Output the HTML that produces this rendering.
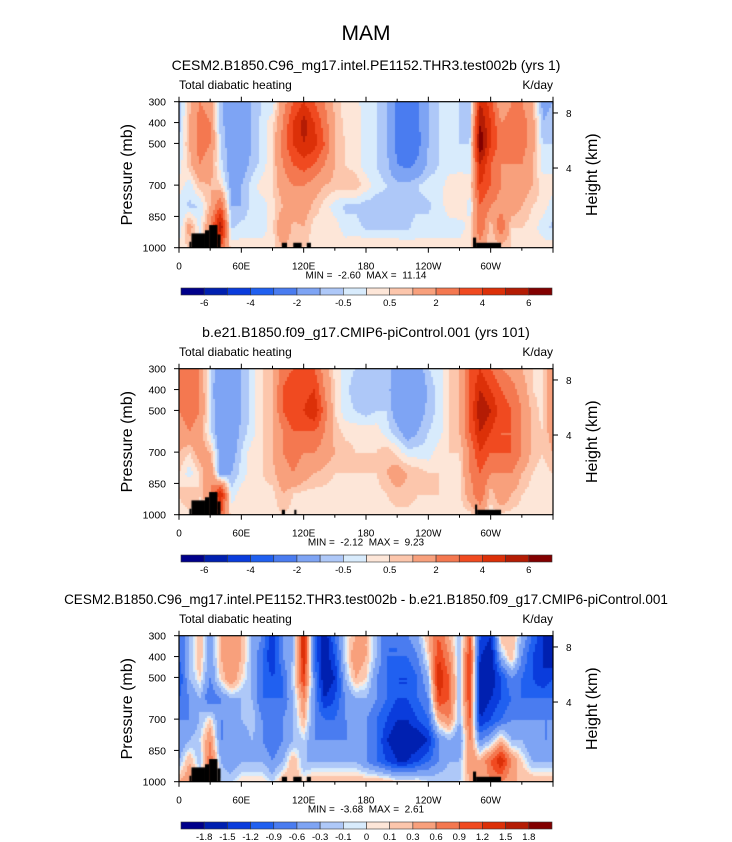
<!DOCTYPE html>
<html><head><meta charset="utf-8">
<style>
body{margin:0;background:#fff;width:732px;height:842px;position:relative;overflow:hidden;font-family:"Liberation Sans",Arial,sans-serif}
canvas{position:absolute}
svg{position:absolute;left:0;top:0}
</style></head>
<body>
<canvas id="c0" width="374" height="146" style="left:179px;top:101.7px"></canvas>
<canvas id="c1" width="374" height="146" style="left:179px;top:368.7px"></canvas>
<canvas id="c2" width="374" height="146" style="left:179px;top:635.7px"></canvas>
<svg id="ov" width="732" height="842"></svg>
<script>
const lons=[0,10,20,30,40,50,60,70,80,90,100,110,120,130,140,150,160,170,180,190,200,210,220,230,240,250,260,270,280,290,300,310,320,330,340,350,360];
const levs=[300,400,500,600,700,800,900,1000];
const colors=["#00008a","#0020b0","#0a3cdc","#2060f0","#4a7cf0","#7ea4f4","#aec8f8","#d8ebfc","#fde6d8","#fcc6ac","#f8a07c","#f47850","#f04a20","#dc3008","#b41c04","#820000"];
const bounds12=[-6,-5,-4,-3,-2,-1,-0.5,0,0.5,1,2,3,4,5,6];
const labels12=["-6","-4","-2","-0.5","0.5","2","4","6"];
const bounds3=[-1.8,-1.5,-1.2,-0.9,-0.6,-0.3,-0.1,0,0.1,0.3,0.6,0.9,1.2,1.5,1.8];
const labels3=["-1.8","-1.5","-1.2","-0.9","-0.6","-0.3","-0.1","0","0.1","0.3","0.6","0.9","1.2","1.5","1.8"];
const xTickVals=[0,60,120,180,240,300];
const xTickLabels=["0","60E","120E","180","120W","60W"];
const pTicks=[300,400,500,700,850,1000];
const hTicks=[[8,354],[4,618]];
const field1=[
[-1,0.8,2,1.5,-0.8,-1.5,-1.8,-1,-0.5,-0.3,1.5,3,4,3,2,0.8,0.3,0.2,-0.3,-0.5,-1,-2.2,-2.5,-2.2,-1,-0.5,-0.3,-0.5,-0.8,5,3.5,1,2,2,1,-1.2,-1],
[-0.8,1,2.5,2,-0.8,-1.5,-1.8,-1,-0.3,0.3,2,4,5.5,4,2.5,1,0.3,0.3,-0.3,-0.5,-1,-2.2,-2.5,-2.2,-1,-0.5,-0.3,-0.5,-0.8,6,4,2,2.5,2.5,1.5,-1,-0.8],
[-0.5,1,2.5,2,-0.5,-1.5,-1.8,-1,-0.3,0.5,2.5,4,5,4.5,3,1,0.5,0.3,-0.3,-0.5,-1,-2.3,-2.6,-2.3,-1,-0.5,-0.3,-0.5,-0.5,7,4,2.5,2.5,2.5,1.5,-0.5,-0.5],
[-0.3,0.8,2,1.5,-0.3,-1.5,-1.5,-0.8,-0.3,0.5,2,3,3.5,3,2,1,0.5,0.3,-0.3,-0.5,-0.8,-2,-2.3,-1.8,-0.8,-0.5,-0.3,-0.3,-0.3,5,3,2,2,2,1,-0.3,-0.3],
[0.3,-0.3,0.8,1,0.5,-1.2,-1,-0.3,0.3,0.5,1.5,2,2,1.5,1,0.8,0.8,0.8,0.3,-0.3,-0.5,-0.8,-0.8,-0.5,-0.3,-0.3,0.3,0.5,0.3,4,3,2,1.5,1.5,1,0.3,0.3],
[-0.3,-0.6,-0.5,1,3,-1,-1,-0.3,-0.3,0.3,1,1.5,1.5,0.8,0.3,-0.3,-0.6,-0.6,-0.8,-0.8,-0.6,-0.6,-0.6,-0.6,-0.6,-0.3,0.3,0.5,-0.3,3,2,1.5,1.5,1,0.5,0.3,-0.3],
[-0.6,1.5,-0.3,2,6,-0.6,-0.3,-0.3,-0.3,0.3,2,0.8,1,0.3,0.3,0.3,-0.3,-0.3,-0.6,-0.6,-0.6,-0.6,-0.6,-0.3,-0.3,-0.3,-0.3,-0.3,0.3,3,0.5,3,0.5,0.5,0.3,-0.3,-0.6],
[0.3,0.5,0.5,1,3,0.3,0.3,0.3,0.3,0.3,1,0.5,0.5,0.3,0.3,0.3,0.3,0.5,0.5,0.5,0.5,0.5,0.3,0.3,0.3,0.3,0.3,0.3,0.3,1.5,0.5,0.5,0.5,0.3,0.3,0.3,0.3]];
const field2=[
[2,2,2,-0.5,-1.5,-1.5,-1,-0.3,0.5,1,2.5,3,3,3,1.5,0.3,-0.3,-0.5,-0.8,-0.8,-0.5,-1.5,-2,-1.5,-0.5,-0.3,0.5,1,3,4,3,2,1.5,1,0.5,0.3,2],
[2,2,2,-0.5,-2,-2,-1,-0.3,0.5,1,3,4,3.5,4,2,0.5,-0.3,-0.8,-1,-1,-0.8,-1.5,-2,-2,-0.8,-0.3,0.5,1,3,5,4,3,2.5,1.5,0.5,0.3,2],
[2,2.5,2,-0.3,-2,-2,-1,-0.3,0.5,1,3,4,4,5,2.5,0.5,-0.3,-0.5,-0.8,-0.5,-0.5,-1.5,-2,-1.5,-0.8,-0.3,0.5,1,3,6,5,3.5,3,2,0.8,0.3,2],
[1.5,2,1.5,-0.3,-1.8,-1.8,-0.8,-0.3,0.5,1,2,3,3,3,2,0.8,0.3,0.3,0.3,0.3,-0.3,-0.8,-1.5,-1,-0.5,-0.3,0.5,1,3,5,4,3,3,2,0.8,0.5,1.5],
[1,0.5,1.5,1,-1.5,-1.5,-0.5,0.3,0.5,1,2,2.5,2,2,1.5,1,0.8,0.5,0.5,0.5,0.8,0.3,-0.3,-0.3,-0.3,0.3,0.5,0.5,2,4,3,3,3,2,0.8,0.5,1],
[0.5,-0.3,0.5,2,-1.5,-1,-0.3,0.3,0.5,0.8,1.5,2,1.5,1,0.8,0.5,0.5,0.5,0.5,0.5,1,1.5,1,0.8,0.5,0.5,0.5,0.3,2,3,2,2,2,1,0.5,0.3,0.5],
[0.5,1,0.5,2,5,-0.3,0.3,0.3,0.3,0.3,1,0.5,0.3,0.3,0.3,0.3,0.3,0.3,0.3,0.3,0.5,0.8,0.8,0.5,0.5,0.5,0.3,0.3,1.5,3,0.5,2,1,0.5,0.3,0.3,0.5],
[0.3,0.3,0.3,1,3,0.3,0.3,0.3,0.3,0.3,0.5,0.3,0.3,0.3,0.3,0.3,0.3,0.3,0.3,0.3,0.3,0.3,0.3,0.3,0.3,0.3,0.3,0.3,0.3,1,0.3,0.3,0.3,0.3,0.3,0.3,0.3]];
const field3=[
[-0.9,-0.3,0.3,-0.6,0.3,0.6,0.3,-0.3,-0.6,-1.5,-0.6,-0.3,1.5,-0.9,-1.8,-0.9,-0.1,0.3,0.3,-0.3,-0.9,-0.9,-0.6,-0.3,0.3,0.9,0.3,-0.3,0.9,-1.2,-1.5,0.3,0.3,-0.3,-0.9,-1.5,-1.8],
[-0.9,-0.3,0.3,-0.6,0.3,0.6,0.3,-0.3,-0.9,-1.5,-0.6,-0.3,1.5,-0.9,-1.8,-1.2,-0.1,0.6,0.3,-0.3,-0.9,-0.9,-0.9,-0.6,0.1,1.2,0.6,-0.3,1.2,-1.5,-1.8,-0.3,0.3,-0.6,-1.2,-1.5,-1.8],
[-1.2,-0.3,0.1,-0.6,0.1,0.6,0.1,-0.3,-0.9,-1.2,-0.9,-0.1,1.2,-0.6,-1.8,-1.5,-0.3,0.3,0.1,-0.6,-0.9,-1.2,-1.2,-0.9,-0.3,1.5,0.9,-0.3,1.2,-1.8,-1.8,-1.2,-0.6,-0.9,-1.2,-1.5,-1.2],
[-0.9,-0.6,-0.3,-0.9,-0.6,-0.3,-0.3,-0.3,-0.9,-0.9,-0.9,-0.3,0.6,-0.6,-1.5,-1.2,-0.6,-0.3,-0.3,-0.6,-0.9,-1.2,-1.2,-0.9,-0.6,1.2,0.9,-0.3,1.2,-1.8,-1.5,-1.2,-0.9,-0.9,-0.9,-0.9,-0.9],
[-0.6,-0.6,-0.3,0.1,-0.6,-0.6,-0.3,-0.1,-0.6,-0.9,-0.6,-0.3,0.3,-0.6,-0.9,-0.9,-0.6,-0.6,-0.6,-0.9,-1.2,-1.5,-1.5,-1.2,-0.9,0.3,0.6,-0.3,0.9,-1.5,-1.2,-0.9,-0.6,-0.6,-0.6,-0.6,-0.6],
[-0.6,-0.3,-0.1,0.6,-0.6,-0.6,-0.6,-0.3,-0.6,-0.9,-0.6,-0.3,-0.1,-0.6,-0.6,-0.6,-0.6,-0.6,-0.6,-0.9,-1.5,-1.8,-1.8,-1.8,-1.5,-0.6,-0.3,-0.6,0.6,-0.6,-0.3,0.3,-0.3,-0.3,-0.6,-0.6,-0.6],
[-0.3,0.3,-0.3,0.9,-0.3,-0.6,-0.3,-0.3,-0.3,-0.6,-0.3,0.3,-0.3,-0.3,-0.3,-0.3,-0.3,-0.3,-0.6,-0.9,-1.2,-1.5,-1.5,-1.2,-0.9,-0.6,-0.3,-0.3,0.6,0.3,0.9,1.5,0.6,0.1,-0.3,-0.3,-0.3],
[0.3,0.6,0.3,0.6,-0.1,-0.1,0.1,0.1,0.1,-0.1,0.3,0.3,0.1,0.3,0.3,0.3,0.3,0.3,0.3,0.3,0.3,0.1,0.1,0.1,-0.1,-0.1,-0.1,-0.1,0.3,0.3,0.6,0.6,0.3,0.3,0.3,0.3,0.3]];
const topoA=[[10,12,970],[12,25,930],[25,29,915],[29,37,890],[37,40,935],[99,104,975],[110,118,975],[123,127,975],[283,286,950],[286,310,975]];
const topoB=[[10,12,970],[12,25,930],[25,29,915],[29,37,890],[37,40,935],[99,102,975],[111,113,975],[285,287,950],[287,310,975]];
const panels=[
 {dy:0,field:field1,bounds:bounds12,labels:labels12,topo:topoA,min:"-2.60",max:"11.14",title:"CESM2.B1850.C96_mg17.intel.PE1152.THR3.test002b (yrs 1)",all:false},
 {dy:267,field:field2,bounds:bounds12,labels:labels12,topo:topoB,min:"-2.12",max:"9.23",title:"b.e21.B1850.f09_g17.CMIP6-piControl.001 (yrs 101)",all:false},
 {dy:534,field:field3,bounds:bounds3,labels:labels3,topo:topoA,min:"-3.68",max:"2.61",title:"CESM2.B1850.C96_mg17.intel.PE1152.THR3.test002b - b.e21.B1850.f09_g17.CMIP6-piControl.001",all:true}];
const X0=179,W=374,Y0=101.7,H=146;
function xs(lon){return X0+lon/360*W;}
function ys(p,dy){return Y0+dy+(p-300)/700*H;}
function interp(f,lon,p){
 let i=Math.min(35,Math.floor(lon/10)),tx=(lon-lons[i])/10;
 let j=0;while(j<6&&p>levs[j+1])j++;
 let ty=(p-levs[j])/(levs[j+1]-levs[j]);
 const a=f[j][i],b=f[j][i+1],c=f[j+1][i],d=f[j+1][i+1];
 return (a*(1-tx)+b*tx)*(1-ty)+(c*(1-tx)+d*tx)*ty;}
function bin(v,b){let k=0;while(k<b.length&&v>=b[k])k++;return k;}
const NS="http://www.w3.org/2000/svg";
const svg=document.getElementById('ov');
function el(t,a,txt){const e=document.createElementNS(NS,t);for(const k in a)e.setAttribute(k,a[k]);if(txt!==undefined)e.textContent=txt;svg.appendChild(e);return e;}
let t=el('text',{x:366,y:40,'font-size':21,'text-anchor':'middle'},'MAM');

panels.forEach((P,pi)=>{
 const cv=document.getElementById('c'+pi),ctx=cv.getContext('2d');
 for(let px=0;px<W;px+=2)for(let py=0;py<H;py+=2){
  const lon=(px+1)/W*360,p=300+(py+1)/H*700;
  ctx.fillStyle=colors[bin(interp(P.field,lon,p),P.bounds)];ctx.fillRect(px,py,2,2);}
 ctx.fillStyle='#000';
 P.topo.forEach(tb=>{const x1=tb[0]/360*W,x2=tb[1]/360*W,y=(tb[2]-300)/700*H;ctx.fillRect(x1,y,x2-x1,H-y);});
 const dy=P.dy;
 let e;
 e=el('text',{x:366,y:70+dy,'font-size':pi==2?13.5:14,'text-anchor':'middle'},P.title);
 
 e=el('text',{x:179,y:89+dy,'font-size':12},'Total diabatic heating');
 
 e=el('text',{x:553,y:89+dy,'font-size':12,'text-anchor':'end'},'K/day');
 
 e=el('rect',{x:X0,y:Y0+dy,width:W,height:H,fill:'none',stroke:'#000','stroke-width':1.2});
 
 for(let lon=0;lon<=360;lon+=30){const x=xs(lon),major=lon%60==0,L=major?5:3;
  e=el('line',{x1:x,x2:x,y1:Y0+dy+H,y2:Y0+dy+H+L,stroke:'#000'});
  
  e=el('line',{x1:x,x2:x,y1:Y0+dy,y2:Y0+dy-L,stroke:'#000'});
  }
 xTickVals.forEach((v,k)=>{e=el('text',{x:xs(v),y:Y0+dy+H+22,'font-size':10,'text-anchor':'middle'},xTickLabels[k]);
  });
 pTicks.forEach(p=>{const y=ys(p,dy);
  e=el('line',{x1:X0,x2:X0-5,y1:y,y2:y,stroke:'#000'});
  
  e=el('text',{x:X0-13,y:y+4,'font-size':10.5,'text-anchor':'end'},String(p));
  });
 hTicks.forEach(h=>{const y=ys(h[1],dy);
  e=el('line',{x1:X0+W,x2:X0+W+5,y1:y,y2:y,stroke:'#000'});
  
  e=el('text',{x:X0+W+13,y:y+4,'font-size':10,},String(h[0]));
  });
 const cy=Y0+dy+H/2;
 e=el('text',{x:132,y:cy,'font-size':16,'text-anchor':'middle',transform:`rotate(-90 132 ${cy})`},'Pressure (mb)');
 
 e=el('text',{x:597,y:cy,'font-size':16,'text-anchor':'middle',transform:`rotate(-90 597 ${cy})`},'Height (km)');
 
 e=el('text',{x:366,y:Y0+dy+H+31,'font-size':10,'text-anchor':'middle','xml:space':'preserve',style:'white-space:pre'},`MIN =  ${P.min}  MAX =  ${P.max}`);
 
 const bx=181,bw=371/16,by=288+dy;
 colors.forEach((c,k)=>{e=el('rect',{x:bx+k*bw,y:by,width:bw,height:7,fill:c,stroke:'#333','stroke-width':0.6});
  });
 P.labels.forEach((l,k)=>{const idx=P.all?k:2*k;
  e=el('text',{x:bx+(idx+1)*bw,y:by+18,'font-size':9.5,'text-anchor':'middle'},l);
  });
});
</script>
</body></html>
